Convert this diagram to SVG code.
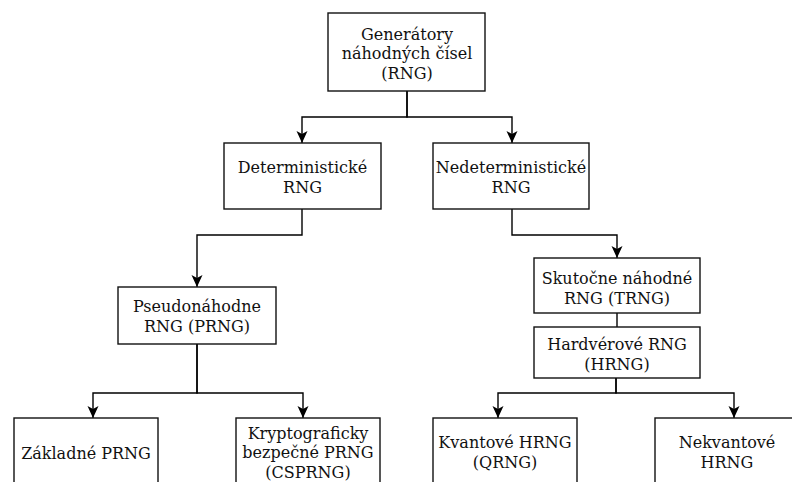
<svg xmlns="http://www.w3.org/2000/svg" width="792" height="482" viewBox="0 0 792 482">
<style>
.box{fill:#fff;stroke:#111;stroke-width:1.4}
.t{font-family:"DejaVu Serif","Liberation Serif",serif;font-size:16px;fill:#111;text-anchor:middle}
.c{fill:none;stroke:#000;stroke-width:1.4}
</style>
<defs>
<marker id="arr" viewBox="0 0 12 12" refX="12" refY="6" markerWidth="12" markerHeight="12" markerUnits="userSpaceOnUse" orient="auto">
<path d="M0,0.5 L12,6 L0,11.5 L3,6 Z" fill="#000"/>
</marker>
</defs>
<rect width="792" height="482" fill="#fff"/>
<g id="connectors">
<path class="c" d="M407 91 V117 H302 V143" marker-end="url(#arr)"/>
<path class="c" d="M407 91 V117 H512 V143" marker-end="url(#arr)"/>
<path class="c" d="M302 209 V235 H197 V287" marker-end="url(#arr)"/>
<path class="c" d="M512 209 V235 H617 V258" marker-end="url(#arr)"/>
<path class="c" d="M617 313 V327"/>
<path class="c" d="M197 344 V393 H93 V418" marker-end="url(#arr)"/>
<path class="c" d="M197 344 V393 H303 V418" marker-end="url(#arr)"/>
<path class="c" d="M616 378 V393 H498 V418" marker-end="url(#arr)"/>
<path class="c" d="M616 378 V393 H734 V418" marker-end="url(#arr)"/>
</g>
<g id="rng">
<rect class="box" x="328" y="13" width="157" height="78"/>
<text class="t" x="407" y="39.5">Generátory</text>
<text class="t" x="407" y="59">náhodných čísel</text>
<text class="t" x="407" y="78.5">(RNG)</text>
</g>
<g id="det">
<rect class="box" x="224" y="143" width="157" height="66"/>
<text class="t" x="302.5" y="173">Deterministické</text>
<text class="t" x="302.5" y="192.5">RNG</text>
</g>
<g id="nedet">
<rect class="box" x="433" y="143" width="156" height="66"/>
<text class="t" x="511" y="173">Nedeterministické</text>
<text class="t" x="511" y="192.5">RNG</text>
</g>
<g id="prng">
<rect class="box" x="118" y="287" width="158" height="57"/>
<text class="t" x="197" y="312">Pseudonáhodne</text>
<text class="t" x="197" y="331.5">RNG (PRNG)</text>
</g>
<g id="trng">
<rect class="box" x="534" y="258" width="166" height="55"/>
<text class="t" x="617" y="284">Skutočne náhodné</text>
<text class="t" x="617" y="303.5">RNG (TRNG)</text>
</g>
<g id="hrng">
<rect class="box" x="534" y="327" width="166" height="51"/>
<text class="t" x="617" y="350">Hardvérové RNG</text>
<text class="t" x="617" y="369.5">(HRNG)</text>
</g>
<g id="zakl">
<rect class="box" x="14" y="418" width="144" height="69"/>
<text class="t" x="86" y="458.5">Základné PRNG</text>
</g>
<g id="csprng">
<rect class="box" x="236" y="418" width="144" height="69"/>
<text class="t" x="308" y="438.5">Kryptograficky</text>
<text class="t" x="308" y="458">bezpečné PRNG</text>
<text class="t" x="308" y="477.5">(CSPRNG)</text>
</g>
<g id="qrng">
<rect class="box" x="433" y="418" width="144" height="69"/>
<text class="t" x="505" y="448">Kvantové HRNG</text>
<text class="t" x="505" y="467.5">(QRNG)</text>
</g>
<g id="nekv">
<rect class="box" x="655" y="418" width="144" height="69"/>
<text class="t" x="727" y="448">Nekvantové</text>
<text class="t" x="727" y="467.5">HRNG</text>
</g>
</svg>
